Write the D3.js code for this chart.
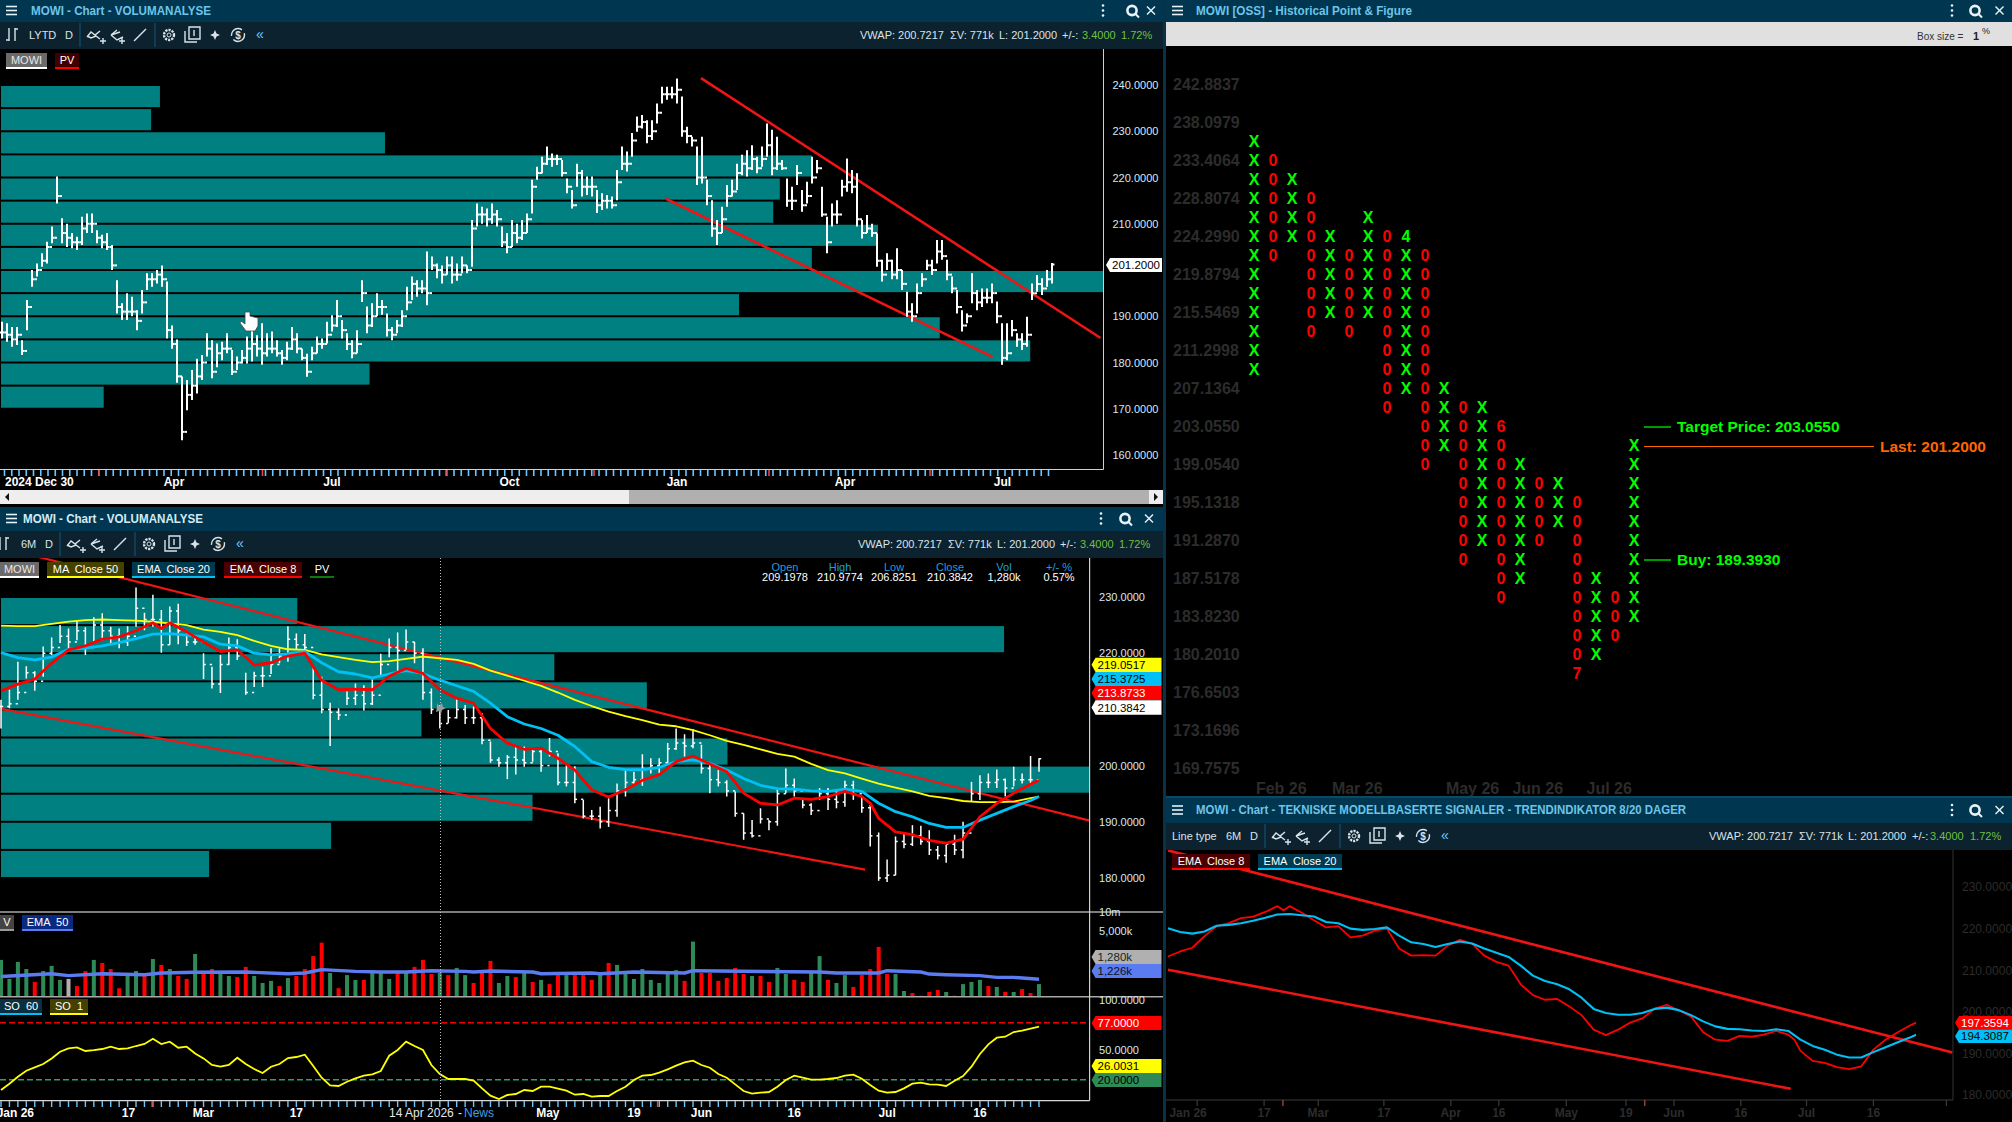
<!DOCTYPE html>
<html>
<head>
<meta charset="utf-8">
<style>
html,body{margin:0;padding:0;background:#000;overflow:hidden}
text{font-family:"Liberation Sans",Arial,sans-serif;white-space:pre}
</style>
<script src="https://cdn.jsdelivr.net/npm/d3@7"></script>
</head>
<body>
<svg id="c" width="2012" height="1122"></svg>
<script>
// --- upper chart, LYTD daily bars
const topHigh = [188.8,188.5,187.7,187.7,184.8,193.5,200,201.4,203.6,206.1,
209.4,220.2,211.2,210,208,207.2,211.5,212.2,212.2,208.6,
207.6,208,205.4,197.8,192.8,195,194.2,191.3,195.7,199.3,
199.3,200,201,197.5,188,185,177,176.2,178.4,180.8,
181.6,186.3,184.8,184.1,184.5,186.3,182.7,181.3,182.7,185.6,
187,185.9,188.5,186.3,186.7,184.8,182.7,184.5,187.7,186.3,
183,181.9,183.4,185.6,185.2,188.8,190.2,193.5,189.2,186.3,
184.8,187,197.8,192.1,192.8,195,193.5,190.6,187.7,189.2,
191.3,196.4,198.6,197.8,197.8,204,202.9,201.4,201,202.9,
202.9,201.4,202.9,201,210.8,214.4,213.7,213.3,214.4,213,
209.4,208,210.8,210,210.8,212.2,219.5,222.3,224.5,226.7,
225.2,224.9,223.8,219.8,217.3,223,221.6,220.2,220.2,217.3,
216.6,216.2,215.9,221.6,226.7,225.6,229.6,233.2,233.5,232.4,
232.4,236,239.6,239.6,239.6,241.4,237.5,231,228.8,226.7,
228.8,219.5,215.1,210.8,213.7,218.4,219.5,223,224.9,225.9,
227,224.5,226.7,231.7,230.3,228.8,223.8,219.8,218,222.7,
217.3,219.1,224.5,223.8,218,211.5,214.4,215.1,219.5,224.1,
221.6,220.9,210.8,211.9,210,207.9,202.2,203.6,202.2,204.7,
200,195.3,192.8,197.1,199.3,202.2,202.2,206.5,206.5,202.2,
198.6,195.7,191.3,190.6,199.3,195.7,196,196,197.1,193.2,
188.5,188.5,189.2,186.3,186.3,189.9,197.1,198.9,198.2,200,
201.5];
const topLow = [185.2,184.5,183.4,183.8,181.6,187,196.4,198.6,200.7,201.4,
205.8,214.4,205.8,205,204.7,204.3,205.4,208,208,205.8,
204.7,204.3,200,190.6,189.2,189.2,190,187,190.6,195.7,
196.4,197.1,196.4,185.2,183,175.6,163.2,169.7,171.9,173.3,
176.2,181.3,176.6,179,180.5,182,177.3,178.4,179.8,179.8,
180.2,181.3,179.5,181.3,182,181.3,179.5,180.5,182.7,182,
180.5,176.9,180.5,182,183,184.1,186.7,187.7,185.2,182.7,
180.9,182,193.1,186.3,187.7,190,190.3,185.6,184.8,186.3,
187.7,191.3,193.5,194.2,195,192.4,200,198.2,197.1,199,
197.1,197.7,199.3,199.3,200.7,209.4,210,209.4,210,209.4,
205,203.6,205,205.8,206.5,208,212.2,219.5,220.9,222.7,
222.3,222.7,220.2,216.6,213.3,218,215.9,216.2,215.9,212.3,
213,213.3,213.3,215.1,221.6,221.3,224.5,229.9,230.6,227.4,
228.1,231.7,236,236.8,237.1,236,228.8,227.4,226.7,218.4,
218.7,214,207.2,205.4,208,213.7,215.9,217.3,220.5,220.2,
221.6,220.9,222.3,224.5,220.5,221.6,221.6,213.7,213,218.4,
212.6,214.4,218.7,220.9,211.5,203.6,209.4,210,215.9,216.9,
216.6,209.4,206.8,208,207.2,200.7,197.5,200,198,198,
195.7,189.9,188.8,190.6,196.4,200,198.9,201.4,202.2,197.8,
195,190.6,186.7,188.5,192.8,191.3,192,192.8,192.8,188.5,
179.5,180.5,185.6,183.4,182.7,183.4,193.5,195.3,194.6,196.4,
197.1];
const topClose = [186.5,186,185,186,182.5,192,198,200,202,205,
207,216,208,207,206,206,209,210,210,207,
206,205,201,192,191,191,191,189,193,198,
198,199,198,187,184,177,165,173,175,177,
180,183,178,182,183,183,178,180,181,183,
184,183,182,183,183,182,181,183,185,183,
181,178,182,184,184,186,188,190,187,184,
182,184,195,188,190,192,192,187,186,188,
190,193,197,196,196,195,201,200,199,201,
199,199,201,200,209,212,212,211,212,211,
206,205,208,207,208,211,218,221,223,224,
224,224,221,218,214,221,218,218,218,214,
215,215,214,219,223,223,228,231,232,229,
230,234,238,238,238,239,230,229,228,220,
220,216,209,208,211,216,217,221,223,222,
224,222,224,227,222,223,222,215,215,221,
214,216,220,222,212,206,212,212,218,219,
218,211,208,209,208,202,199,202,199,200,
197,191,190,195,198,201,200,204,203,199,
196,192,188,190,195,193,194,194,195,190,
181,182,187,185,184,186,195,197,196,198,
201.2];
const topTicks = [160,170,180,190,210,220,230,240];
const topPvLevel = [237.5,232.5,227.5,222.5,217.5,212.5,207.5,202.5,197.5,192.5,187.5,182.5,177.5,172.5];
const topPvVol = [14.5,13.7,34.9,73.6,70.7,70.1,79.6,73.6,100,67,85.2,93.4,33.5,9.4];
const topMonths = ["Apr","Jul","Oct","Jan","Apr","Jul"];
const topMonthIdx = [34.4,66,101.5,135,168.6,200.1];
const topNewsIdx = [19.4,52.1,88.8,118.4,153.4,185.6];
const topUpper = [[139.8,241.5],[219.7,185.3]];
const topLower = [[132.8,215.4],[198.1,181.2]];

// --- 6M chart, one entry per session
const midHigh = [211.7,213.5,218.5,217.7,216.8,221.2,222.8,225,224.4,225.9,
224.6,226.4,227.1,224.7,224.4,224.8,231.7,227.2,230.4,227.7,
228.3,228.8,223.5,223.2,220,217.6,219.7,222.8,222.5,216.5,
216.7,217.6,220.9,220.9,224.8,223.5,223.4,217.7,215.8,211.2,
210.2,213.2,214.6,214.3,215.3,219.9,222.6,223.7,224.2,222,
220.9,213.7,210.8,209.9,211.8,210.8,210.5,209.3,204.3,201.5,
201.9,203.4,203.4,203.1,202.8,204.9,202.2,200.1,199.9,193.9,
192.1,192.7,194.2,196.8,199.2,198.9,202,201.3,201.3,204,
206.6,205.6,206.5,203.7,200.1,199.2,197.4,195.4,191.5,190.3,
192.4,190.3,195.7,199.5,197.7,193.9,193.3,196,196,195.7,
197.3,197.3,194.5,193,188.1,183.3,187.4,188,189.4,189.3,
188.5,185.7,185.9,187.7,190,197.1,198.3,198.6,199.3,197.7,
199.8,198.6,201.7,201.3];
const midLow = [206.6,210.2,211.7,215.5,213.3,215.8,219.7,221.8,220.9,222.3,
219.7,221.8,222.3,221.8,220.9,221.3,224.7,224.1,224.7,220.1,
221.5,221.6,221.3,221.5,215.4,213.7,212.9,217.9,218.8,212.6,
214,214,216.3,218.2,218.5,220.6,219.7,211.8,209.3,203.5,
208.1,210.8,210.8,209.8,210.8,216.1,219.3,216.7,220.6,218.2,
211.7,209.2,206.6,207.6,208.4,207.4,207.4,203.8,200.5,199.8,
197.6,198.4,199.8,200.7,198.9,201.6,196.5,196.3,193.3,190.6,
190.3,188.8,189.1,190.9,194.5,196.5,196.4,198.6,198.6,200.1,
202.8,201.6,203.1,198.6,195.1,196.3,194.5,190.9,186.8,187.2,
189.7,188.5,189.3,195.1,194.5,192.4,191.2,193.9,192.1,192.4,
192.7,193.9,191.6,185.6,179.5,179.3,180.5,185.3,185.7,185.9,
184.1,183.3,182.7,184.1,183.5,193.6,193.9,196,196,194.5,
196.3,196.8,196.5,198.9];
const midClose = [210.5,211,213,216.5,215,220,221,223,222,224,
221,225,224,223,222,223,228,226,226,221.5,
227.5,224,222,222,218,214.5,218,221,219.5,213,
216,216,218,219.5,222.5,221.5,221,212.5,210,209.5,
209,212,212.5,211,212.5,218,221,220.5,222,220,
213,210,207.5,208.5,210,208.5,208.5,204.5,201,200.5,
201.5,201,200.5,202.5,200,202.5,197,197,194,191,
191,190,192,195.5,197,197.5,199.5,200,200.5,203,
204,203.5,204,199.5,197.5,197,195.5,191.5,188,187.5,
190.5,190,195,196.5,195.5,193,192,195,194,193.5,
196.5,195,192.5,187.5,180,180.5,186.5,186,187.5,186.5,
185,184,186,185,188,195,197,197,197.5,196,
197.5,197.5,197.5,201.2];
const midTicks = [180,190,200,220,230];
const midPvLevel = [227.5,222.5,217.5,212.5,207.5,202.5,197.5,192.5,187.5,182.5];
const midPvVol = [27.3,92.2,50.9,59.4,38.7,66.8,100,48.9,30.4,19.2];
// both channels are shared with the trend panel below
const channelUpper = [[0,238.8],[129,190.2]];
const channelLower = [[0,210.1],[102.4,181.5]];

const emaIdx = [0,2,4,6,8,10,12,14,16,18,20,22,24,26,28,30,32,34,36,38,40,42,44,46,48,50,52,54,56,58,60,62,64,66,68,70,72,74,76,78,80,82,84,86,88,90,92,94,96,98,100,102,104,106,108,110,112,114,116,118,120,122,123];
const ma50 = [224.9,224.8,224.8,225.2,225.6,225.9,226,225.9,225.8,225.6,225.3,225,224.2,223.8,223.2,222.2,221.3,220.7,220.6,219.8,219.3,218.8,218.4,218.6,219,219.4,219.1,218.8,218.1,216.9,216,215.1,214.2,213,211.7,210.6,209.6,208.8,208.1,207.3,207,206.3,205.4,204.4,203.7,202.9,202.1,201.6,200.3,199.2,198.6,197.7,196.8,196.1,195.4,194.6,194.2,193.7,193.5,193.5,193.6,194.2,194.5];
const ema20 = [220.1,219.2,218.8,219.3,220.7,220.9,221.3,221.9,222.6,223.4,223.5,223.2,222.9,221.6,221.3,220,219.7,219.9,220.3,218.3,216.7,216.3,215.6,216.3,216.9,216.4,215.2,214.2,213.2,211.1,208.7,207.4,206.6,205.4,203.4,200.7,199.7,199.3,199.3,199.7,200.7,201,200.4,199.2,197.7,196.5,195.9,195.8,195.5,195.4,195.8,195.4,193.3,191.8,190.9,189.7,189,189,190.3,191.5,192.7,193.8,194.5];
const ema8Idx = [0,2,4,6,8,10,12,14,16,18,19,20,22,24,26,28,30,32,34,36,38,40,42,44,46,48,50,52,54,56,58,60,62,64,66,68,70,72,74,76,78,80,82,84,86,88,90,92,94,96,98,100,102,103,104,106,108,110,112,114,116,118,120,122,123];
const ema8 = [213.3,214.5,215.4,218.2,220.6,221.3,222.5,222.9,224,225.4,224.4,225.4,223.8,222,220.3,220.6,217.9,218.3,219.5,220,215.2,213.5,213.6,213.5,215.9,217.3,216.4,213.5,212,211.1,206.6,204,202.9,203.1,201.3,199.2,195.7,194.4,195.7,197.4,198.4,200.7,201.7,200.3,198.9,195.1,193.3,193,194.2,194,194.5,195.4,194.5,193.3,190.6,188.2,187.7,186.7,186.2,186.9,190.9,193.3,195.1,196.7,197.4];

const midLabels = ["Jan 26","17","Mar","17","May","19","Jun","16","Jul","16"];
const midLabelIdx = [1.7,15.1,24,35,64.8,75,83,94,105,116];
const midNewsIdx = [17.9,77.8];

// --- volume and stochastic panes
const volumes = [1740,870,1620,1250,780,1160,1400,840,870,670,
1160,1740,1560,1250,620,970,1160,970,1800,1450,
1250,970,870,2160,1040,1250,1040,970,930,1350,
970,750,810,670,900,970,1250,2000,3270,1080,
620,1000,840,840,1080,1080,870,1080,1080,1350,
1740,1040,1080,1000,1300,1000,750,1080,1680,750,
970,930,1080,780,840,720,1000,1000,1000,1000,840,
1040,1560,1450,1040,870,1250,840,750,1040,1200,
810,3400,1080,1080,810,900,1300,1040,970,970,
780,1300,1040,840,780,1080,2000,840,750,1000,
650,1000,1250,2800,1040,1040,560,520,470,540,
580,540,470,720,780,840,670,650,540,540,
600,520,720];
const volumeDir = "ggggrgggnrrgrrrggrgrgrrgrrggrrgggrgrrrrgrggrgggrgrrrgrggrrrggrgrgrrgrrr"
  + "grggggggggrgrrrrrrgrrggrrggrggrrrrrggrgrrgggggrgrgrrg";
const volEmaIdx = [0,6,8,12,17,19,23,29,34,36,38,42,45,48,51,55,56,58,63,64,70,71,75,81,82,85,97,99,104,105,109,110,112,116,118,120,123];
const volEma = [951,1050,980,1050,1015,1080,1110,1120,1050,1080,1220,1145,1120,1120,1175,1145,1120,1160,1120,1050,1080,1050,1120,1080,1175,1160,1120,1080,1080,1175,1120,1040,1015,980,920,920,860];
const volTicks = [5000,10000];

const so1 = [9.7,16,23,29,32.3,35.7,41.3,48,51.3,52.3,48.7,49.5,50.7,53,50.7,51.3,53.7,55.7,61,55.7,58,52,53,46.3,41.3,34.7,33,34.7,42,35.7,30.7,26.7,33,35.7,41.7,42.7,45,33.7,22,14.3,13.7,18,21.3,24,25.3,28.7,44,49.7,58,53.7,49.7,34.7,25.7,20.7,20.7,20.7,19,11.3,4,0.7,4.7,5.7,9.7,8.7,13,13,11,9,5,5.7,3,3.7,3.7,8.7,13,19.7,24,24.7,27,30.3,34,37.3,39,34.7,32,25.7,22,15.3,8.7,6,7,7.7,13,19.7,24,22,20,20,20.7,21.7,24,25,21,14.7,9,7,7.7,11.3,16,17,15.3,15,13.7,19,23.7,33,45.7,55.3,62,63,67.7,69,71,73];
const soTicks = [50,100];

// --- point & figure
const pfType = "XOXOXOXOXOXOXOXOXOXOX";
const pfFirst = [3,4,5,6,8,9,7,8,8,9,16,17,17,18,20,21,21,22,26,27,19];
const pfLast = [15,9,8,13,12,13,12,17,16,20,19,25,24,27,26,24,23,31,30,29,28];
const pfDigits = [[8,8,"4"],[13,18,"6"],[17,31,"7"]];
const pfPrices = ["242.8837","238.0979","233.4064","228.8074","224.2990","219.8794","215.5469","211.2998","207.1364","203.0550","199.0540","195.1318","191.2870","187.5178","183.8230","180.2010","176.6503","173.1696","169.7575"];
const pfMonths = ["Feb 26","Mar 26","May 26","Jun 26","Jul 26"];
const pfMonthCol = [0.1,4.1,10.1,13.6,17.5];

// --- trend panel
const botTicks = [180,190,200,210,220,230];
const botLabels = ["Jan 26","17","Mar","17","Apr","16","May","19","Jun","16","Jul","16"];
const botLabelIdx = [3.3,15.8,24.7,35.5,46.5,54.4,65.5,75.3,83.2,94.2,105,116];
const botTickIdx = [4.8,15.8,24.7,35.5,46.5,54.4,65.5,75.3,83.2,94.2,105,116,128];
const botNewsIdx = [18.9,78.4];

const TEAL = "#008080", BAR = "#00364f", TOOL = "#0c222f", BLUE = "#6cc6ff";
const svg = d3.select("#c");
const defs = svg.append("defs");
function clip(id, x, y, w, h) {
  defs.append("clipPath").attr("id", id).append("rect").attr("x", x).attr("y", y).attr("width", w).attr("height", h);
}
clip("cTop", 0, 49, 1103.5, 420);
clip("cMid", 0, 558, 1089.5, 354);
clip("cBot", 1166, 850, 787, 250);

svg.append("rect").attr("width", 2012).attr("height", 1122).attr("fill", "#000");

function rect(x, y, w, h, fill, g) {
  return (g || svg).append("rect").attr("x", x).attr("y", y).attr("width", w).attr("height", h).attr("fill", fill);
}
function hline(x1, y1, x2, y2, col, w, dash) {
  const l = svg.append("line").attr("x1", x1).attr("y1", y1).attr("x2", x2).attr("y2", y2).attr("stroke", col).attr("stroke-width", w || 1);
  if (dash) l.attr("stroke-dasharray", dash);
  return l;
}
function txt(x, y, s, col, size, o) {
  o = o || {};
  return svg.append("text").attr("x", x).attr("y", y).attr("dy", ".35em").attr("fill", col)
    .attr("font-size", size || 11).attr("font-weight", o.bold ? "700" : "400")
    .attr("text-anchor", o.anchor || "start").text(s);
}
function chip(x, y, w, bg, line, s, col) {
  rect(x, y, w, 14, bg);
  rect(x, y + 14, w, 2, line);
  txt(x + w / 2, y + 7.5, s, col || "#fff", 11, { anchor: "middle" });
}
function tag(x, y, w, h, fill, s, col) {
  svg.append("path").attr("d", `M${x},${y + h / 2}L${x + 4},${y}H${x + w}V${y + h}H${x + 4}Z`).attr("fill", fill);
  txt(x + 6, y + h / 2, s, col, 11.5);
}
// panel header and toolbar furniture; cy is the middle of the bar
function header(x, y, w, h, title, col, tx, tw, ix) {
  rect(x, y, w, h, BAR);
  const cy = y + h / 2 - 0.5, mx = x + 6;
  [-4, 0, 4].forEach(d => hline(mx, cy + d, mx + 11, cy + d, "#e8f2f6", 1.6));
  txt(tx, cy, title, col, 12, { bold: true }).attr("textLength", tw).attr("lengthAdjust", "spacingAndGlyphs");
  [-5, 0, 5].forEach(d => svg.append("circle").attr("cx", ix[0]).attr("cy", cy + d).attr("r", 1.3).attr("fill", "#e8f2f6"));
  svg.append("circle").attr("cx", ix[1]).attr("cy", cy).attr("r", 4.6).attr("fill", "none").attr("stroke", "#e8f2f6").attr("stroke-width", 2.6);
  hline(ix[1] + 3, cy + 3, ix[1] + 7, cy + 7, "#e8f2f6", 2);
  hline(ix[2] - 4, cy - 4, ix[2] + 4, cy + 4, "#e8f2f6", 1.4);
  hline(ix[2] + 4, cy - 4, ix[2] - 4, cy + 4, "#e8f2f6", 1.4);
}
function toolbar(dx, y) {
  const c = "#d8e4ea";
  const p = d => svg.append("path").attr("d", d).attr("fill", "none").attr("stroke", c).attr("stroke-width", 1.4);
  [80, 155].forEach(v => hline(v + dx, y - 12, v + dx, y + 12, "#14506e", 1.2));
  p(`M${87 + dx},${y + 2}l4,-5 4,3 5,-4M${87 + dx},${y + 1}l4,2 5,-2 4,3M${100 + dx},${y + 6}h6M${103 + dx},${y + 3}v6`);
  p(`M${111 + dx},${y}l6,-5M${111 + dx},${y}l6,5 6,-3M${111 + dx},${y}l9,-3M${119 + dx},${y + 6}h6M${122 + dx},${y + 3}v6`);
  p(`M${134 + dx},${y + 6}l12,-12`);
  svg.append("circle").attr("cx", 169 + dx).attr("cy", y).attr("r", 5).attr("fill", "none").attr("stroke", c).attr("stroke-width", 2.4).attr("stroke-dasharray", "2.2,1");
  svg.append("circle").attr("cx", 169 + dx).attr("cy", y).attr("r", 2).attr("fill", "none").attr("stroke", c);
  p(`M${185 + dx},${y - 4}v11h12M${189 + dx},${y - 8}h11v12h-11ZM${194 + dx},${y - 5}v6`);
  svg.append("path").attr("d", `M${215 + dx},${y - 5}l1.5,3.5 3.5,1.5 -3.5,1.5 -1.5,3.5 -1.5,-3.5 -3.5,-1.5 3.5,-1.5Z`).attr("fill", c);
  svg.append("circle").attr("cx", 238 + dx).attr("cy", y).attr("r", 6.5).attr("fill", "none").attr("stroke", c).attr("stroke-width", 1.4).attr("stroke-dasharray", "15,4");
  txt(238 + dx, y, "$", c, 10, { anchor: "middle", bold: true });
  txt(260 + dx, y - 1, "«", BLUE, 14, { anchor: "middle" });
}
function stats(x, y, xs) {
  const c = "#d8e4ea", g = "#72c040";
  txt(xs[0] + x, y, "VWAP: 200.7217", c, 11);
  txt(xs[1] + x, y, "ΣV: 771k", c, 11);
  txt(xs[2] + x, y, "L: 201.2000", c, 11);
  txt(xs[3] + x, y, "+/-:", c, 11);
  txt(xs[4] + x, y, "3.4000", g, 11);
  txt(xs[5] + x, y, "1.72%", g, 11);
}
function barIcon(x, y) {
  svg.append("path").attr("d", `M${x + 4},${y - 7}v13M${x + 1},${y + 5}h3M${x + 10},${y - 7}v13M${x + 10},${y - 6}h3`).attr("fill", "none").attr("stroke", "#d8e4ea").attr("stroke-width", 1.4);
}
function pvBars(g, lev, vol, y, maxX, half) {
  const pv = d3.scaleLinear().domain([0, 100]).range([0, maxX]);
  g.selectAll(null).data(lev).enter().append("rect")
    .attr("x", 1).attr("y", d => y(d + half) + 1).attr("width", (d, i) => pv(vol[i]) - 1)
    .attr("height", d => y(d - half) - y(d + half) - 2).attr("fill", TEAL);
}
function ohlc(g, hi, lo, cl, x, y, w, t) {
  const b = g.selectAll(null).data(hi).enter().append("g").attr("stroke", "#fff").attr("stroke-width", w);
  b.append("line").attr("x1", (d, i) => x(i)).attr("x2", (d, i) => x(i)).attr("y1", d => y(d)).attr("y2", (d, i) => y(lo[i]));
  b.append("line").attr("x1", (d, i) => x(i)).attr("x2", (d, i) => x(i) + t).attr("y1", (d, i) => y(cl[i])).attr("y2", (d, i) => y(cl[i]));
  // left tick sits on the previous close
  b.append("line").attr("x1", (d, i) => x(i) - t).attr("x2", (d, i) => x(i)).attr("y1", (d, i) => y(cl[Math.max(i - 1, 0)])).attr("y2", (d, i) => y(cl[Math.max(i - 1, 0)]));
}
function trend(g, pts, x, y, w) {
  g.append("path").attr("d", d3.line().x(d => x(d[0])).y(d => y(d[1]))(pts))
    .attr("fill", "none").attr("stroke", "#f01414").attr("stroke-width", w);
}
function curve(g, idx, vals, x, y, col, w) {
  g.append("path").datum(vals).attr("d", d3.line().x((d, i) => x(idx[i])).y(d => y(d)))
    .attr("fill", "none").attr("stroke", col).attr("stroke-width", w).attr("stroke-linejoin", "round");
}
function yAxis(x, scale, ticks, fmt, pad, col, size, bold) {
  const a = svg.append("g").attr("transform", `translate(${x},0)`)
    .call(d3.axisRight(scale).tickValues(ticks).tickFormat(fmt).tickSize(0).tickPadding(pad));
  a.select(".domain").remove();
  a.selectAll("text").attr("fill", col).attr("font-size", size).attr("font-weight", bold ? 700 : 400)
    .style("font-family", '"Liberation Sans",Arial,sans-serif');
  return a;
}

// ---------- upper left: VOLUMANALYSE LYTD
header(0, 0, 1163, 22, "MOWI - Chart - VOLUMANALYSE", "#6ec4e8", 31, 180, [1103, 1132, 1151]);
rect(0, 22, 1163, 27, TOOL);
barIcon(5, 35);
txt(29, 35, "LYTD", "#d8e4ea", 11);
txt(65, 35, "D", "#d8e4ea", 11);
toolbar(0, 35);
stats(0, 35, [860, 950, 999, 1062, 1082, 1121]);

const xTop = d3.scaleLinear().domain([0, 1]).range([2, 7]);
const yTop = d3.scaleLinear().domain([160, 240]).range([455, 85]);
const gTop = svg.append("g").attr("clip-path", "url(#cTop)");
pvBars(gTop, topPvLevel, topPvVol, yTop, 1103, 2.5);
trend(gTop, topUpper, xTop, yTop, 2.6);
trend(gTop, topLower, xTop, yTop, 2.6);
ohlc(gTop, topHigh, topLow, topClose, xTop, yTop, 2, 2.5);
chip(6, 53, 41, "#6a6a6a", "#fff", "MOWI", "#e8e8e8");
chip(55, 53, 24, "#400000", "#f00", "PV");
hline(1103.5, 49, 1103.5, 469.5, "#d0d0d0", 1);
hline(0, 469.5, 1103.5, 469.5, "#d0d0d0", 1);
yAxis(1103.5, yTop, topTicks, d3.format(".4f"), 9, "#d8e8f4", 11);
svg.append("g").selectAll("line").data(d3.range(0.5, 210, 1.45)).enter().append("line")
  .attr("x1", d => xTop(d)).attr("x2", d => xTop(d)).attr("y1", 470).attr("y2", 476)
  .attr("stroke", BLUE).attr("stroke-width", 1.6);
svg.append("g").selectAll("line").data(topNewsIdx).enter().append("line")
  .attr("x1", d => xTop(d)).attr("x2", d => xTop(d)).attr("y1", 470).attr("y2", 476)
  .attr("stroke", "#f04040").attr("stroke-width", 1.6);
txt(5, 482, "2024 Dec 30", "#fff", 12, { bold: true });
topMonths.forEach((m, i) => txt(xTop(topMonthIdx[i]), 482, m, "#fff", 12, { bold: true, anchor: "middle" }));
rect(0, 490, 629, 14, "#eeeeee");
rect(629, 490, 520, 14, "#b0b0b0");
rect(1149, 490, 14, 14, "#eeeeee");
svg.append("path").attr("d", "M5,497l4,-4v8ZM1158,497l-4,-4v8Z").attr("fill", "#111");
tag(1106, 258, 56, 14, "#fff", "201.2000", "#000");
// hand pointer left by the screenshot
svg.append("path").attr("d", "M245,312v12l-4,-3 -1,2 6,8h9l3,-5v-8l-8,-2v-4Z").attr("fill", "#fff").attr("stroke", "#444").attr("stroke-width", 0.8);

// ---------- lower left: VOLUMANALYSE 6M
header(0, 507, 1163, 24, "MOWI - Chart - VOLUMANALYSE", "#d4ebf6", 23, 180, [1101, 1125, 1149]);
rect(0, 531, 1163, 27, TOOL);
barIcon(-4, 544);
txt(21, 544, "6M", "#d8e4ea", 11);
txt(45, 544, "D", "#d8e4ea", 11);
toolbar(-20, 544);
stats(-2, 544, [860, 950, 999, 1062, 1082, 1121]);

const xMid = d3.scaleLinear().domain([0, 123]).range([1, 1039]);
const yMid = d3.scaleLinear().domain([180, 230]).range([878, 597]);
const gMid = svg.append("g").attr("clip-path", "url(#cMid)");
pvBars(gMid, midPvLevel, midPvVol, yMid, 1089, 2.5);
trend(gMid, channelUpper, xMid, yMid, 2.2);
trend(gMid, channelLower, xMid, yMid, 2.2);
ohlc(gMid, midHigh, midLow, midClose, xMid, yMid, 1.5, 2.2);
curve(gMid, emaIdx, ma50, xMid, yMid, "#ffff00", 1.8);
curve(gMid, emaIdx, ema20, xMid, yMid, "#00c0f5", 2.8);
curve(gMid, ema8Idx, ema8, xMid, yMid, "#ff0000", 2.8);

chip(0, 562, 39, "#6a6a6a", "#fff", "MOWI", "#e8e8e8");
chip(47, 562, 77, "#454200", "#ffff00", "MA  Close 50");
chip(132, 562, 83, "#003a50", "#00c0f5", "EMA  Close 20");
chip(224, 562, 78, "#4a0000", "#f00", "EMA  Close 8");
chip(310, 562, 24, "#000", "#0a7a0a", "PV");

const cellX = [785, 840, 894, 950, 1004, 1059];
["Open", "High", "Low", "Close", "Vol", "+/- %"].forEach((s, i) => txt(cellX[i], 567, s, "#1f9fd8", 11, { anchor: "middle" }));
["209.1978", "210.9774", "206.8251", "210.3842", "1,280k", "0.57%"].forEach((s, i) => txt(cellX[i], 577, s, "#fff", 11, { anchor: "middle" }));

yAxis(1089.6, yMid, midTicks, d3.format(".4f"), 9.5, "#d8e8f4", 11);

// volume pane (log axis)
const yVol = d3.scaleLog().domain([450, 10000]).range([997, 912]);
const volCol = { g: "#2e8b57", r: "#ff0000", n: "#b0b0b0" };
svg.append("g").selectAll("rect").data(volumes).enter().append("rect")
  .attr("x", (d, i) => xMid(i) - 2).attr("width", 4)
  .attr("y", d => yVol(d)).attr("height", d => 997 - yVol(d))
  .attr("fill", (d, i) => volCol[volumeDir[i]]);
curve(svg, volEmaIdx, volEma, xMid, yVol, "#5b7cf0", 3.4);
hline(0, 912, 1163, 912, "#a8a8a8", 1.4);
hline(0, 996.8, 1163, 996.8, "#a8a8a8", 1.4);
yAxis(1089.6, yVol, volTicks, d => d === 10000 ? "10m" : "5,000k", 9.5, "#d8e8f4", 11);
chip(0, 915, 14, "#444", "#999", "V");
chip(22, 915, 51, "#0a2a80", "#5b7cf0", "EMA  50");

// stochastic pane
const ySo = d3.scaleLinear().domain([0, 100]).range([1099.7, 999.7]);
hline(0, ySo(77), 1089, ySo(77), "#f00000", 1.5, "6,3");
hline(0, ySo(20), 1089, ySo(20), "#2e9e6b", 1.5, "6,3");
svg.append("path").datum(so1).attr("d", d3.line().x((d, i) => xMid(i)).y(d => ySo(d)))
  .attr("fill", "none").attr("stroke", "#ffff00").attr("stroke-width", 1.8);
chip(0, 999, 42, "#0a3040", "#00c0f5", "SO  60");
chip(50, 999, 38, "#444000", "#ffff00", "SO  1");
yAxis(1089.6, ySo, soTicks, d3.format(".4f"), 9.5, "#d8e8f4", 11);

hline(1089.6, 558, 1089.6, 1100.7, "#d0d0d0", 1.2);
hline(0, 1100.7, 1089.6, 1100.7, "#d8d8d8", 1.2);
svg.append("g").selectAll("line").data(d3.range(0, 124)).enter().append("line")
  .attr("x1", d => xMid(d)).attr("x2", d => xMid(d)).attr("y1", 1101).attr("y2", 1107)
  .attr("stroke", BLUE).attr("stroke-width", 1.4);
svg.append("g").selectAll("line").data(midNewsIdx).enter().append("line")
  .attr("x1", d => xMid(d)).attr("x2", d => xMid(d)).attr("y1", 1101).attr("y2", 1107)
  .attr("stroke", "#f04040").attr("stroke-width", 1.4);
midLabels.forEach((s, i) => txt(xMid(midLabelIdx[i]), 1113, s, "#fff", 12, { bold: true, anchor: "middle" }));
txt(389, 1113, "14 Apr 2026", "#e8e8e8", 12);
txt(458, 1113, "-", "#e8e8e8", 12);
txt(464, 1113, "News", "#3f9fe8", 12);
hline(440.5, 558, 440.5, 1101, "#bdbdbd", 1, "1,2");
svg.append("path").attr("d", "M437,703l2,3 3,-3 1,4 3,1 -4,2 -1,4 -2,-3 -3,1 1,-5Z").attr("fill", "#9a9a9a");

tag(1091.5, 657.7, 70, 14.3, "#ffff00", "219.0517", "#000");
tag(1091.5, 672, 70, 14, "#00c0f5", "215.3725", "#000");
tag(1091.5, 686, 70, 14, "#ff0000", "213.8733", "#fff");
tag(1091.5, 700.3, 70, 14.4, "#fff", "210.3842", "#000");
tag(1091.5, 950, 70, 14, "#b0b0b0", "1,280k", "#222");
tag(1091.5, 964, 70, 14, "#5b7cf0", "1,226k", "#111");
tag(1091.5, 1016, 70, 14, "#ff0000", "77.0000", "#fff");
tag(1091.5, 1059, 70, 14, "#ffff00", "26.0031", "#000");
tag(1091.5, 1073, 70, 14, "#2e8b57", "20.0000", "#000");

// panel separator
rect(1163, 0, 3, 1122, "#0a3147");

// ---------- point & figure
header(1166, 0, 846, 22, "MOWI [OSS] - Historical Point & Figure", "#6ec4e8", 1196, 216, [1952, 1975, 1999.5]);
rect(1166, 22, 846, 24, "#e0e0e0");
txt(1917, 36, "Box size =", "#333", 10);
txt(1973, 36, "1", "#222", 11, { bold: true });
txt(1982, 31, "%", "#222", 9);

const xPf = d3.scaleLinear().domain([0, 1]).range([1254, 1273]);
const yPf = d3.scaleLinear().domain([0, 1]).range([84, 103]);
const PF_FONT = 16;
pfPrices.forEach((s, i) => txt(1173, yPf(i * 2), s, "#2c2c2c", 16, { bold: true }));
pfType.split("").forEach((t, c) => {
  d3.range(pfFirst[c], pfLast[c] + 1).forEach(r => {
    const dig = pfDigits.find(d => d[0] === c && d[1] === r);
    txt(xPf(c), yPf(r), dig ? dig[2] : (t === "X" ? "X" : "0"), t === "X" ? "#00ff00" : "#ff0000", PF_FONT, { bold: true, anchor: "middle" });
  });
});
pfMonths.forEach((s, i) => txt(xPf(pfMonthCol[i]), 788, s, "#2c2c2c", 16, { bold: true }));
hline(1644, 427, 1671, 427, "#00ff00", 1.2);
txt(1677, 427, "Target Price: 203.0550", "#00ff00", 15.5, { bold: true });
hline(1644, 446.5, 1874, 446.5, "#ff6600", 1.2);
txt(1880, 446.5, "Last: 201.2000", "#ff6600", 15.5, { bold: true });
hline(1644, 560, 1671, 560, "#00ff00", 1.2);
txt(1677, 560, "Buy: 189.3930", "#00ff00", 15.5, { bold: true });

// ---------- trend indicator 8/20
rect(1166, 796, 846, 2, "#0a4a66");
header(1166, 798, 846, 25, "MOWI - Chart - TEKNISKE MODELLBASERTE SIGNALER - TRENDINDIKATOR 8/20 DAGER", "#6ec4e8", 1196, 490, [1952, 1975, 1999.5]);
rect(1166, 823, 846, 27, TOOL);
txt(1172, 836, "Line type", "#d8e4ea", 11);
txt(1226, 836, "6M", "#d8e4ea", 11);
txt(1250, 836, "D", "#d8e4ea", 11);
toolbar(1185, 836);
stats(0, 836, [1709, 1799, 1848, 1912, 1930, 1970]);

const xBot = d3.scaleLinear().domain([0, 123]).range([1168, 1916]);
const yBot = d3.scaleLinear().domain([180, 230]).range([1095, 887]);
const gBot = svg.append("g").attr("clip-path", "url(#cBot)");
trend(gBot, channelUpper, xBot, yBot, 2.6);
trend(gBot, channelLower, xBot, yBot, 2.6);
curve(gBot, ema8Idx, ema8, xBot, yBot, "#ff0000", 1.8);
curve(gBot, emaIdx, ema20, xBot, yBot, "#00c0f5", 2.1);
chip(1172, 854, 78, "#4a0000", "#f00", "EMA  Close 8");
chip(1258, 854, 84, "#003a50", "#00c0f5", "EMA  Close 20");
hline(1953, 850, 1953, 1100, "#2a2a2a", 1.2);
hline(1166, 1100, 1953, 1100, "#3a3a3a", 1.2);
yAxis(1953, yBot, botTicks, d3.format(".4f"), 9, "#2c2c2c", 12);
svg.append("g").selectAll("line").data(botTickIdx).enter().append("line")
  .attr("x1", d => xBot(d)).attr("x2", d => xBot(d)).attr("y1", 1100).attr("y2", 1106)
  .attr("stroke", "#3a3a3a").attr("stroke-width", 1.2);
svg.append("g").selectAll("line").data(botNewsIdx).enter().append("line")
  .attr("x1", d => xBot(d)).attr("x2", d => xBot(d)).attr("y1", 1100).attr("y2", 1106)
  .attr("stroke", "#b05050").attr("stroke-width", 1.2);
botLabels.forEach((s, i) => txt(xBot(botLabelIdx[i]), 1113, s, "#2c2c2c", 12, { bold: true, anchor: "middle" }));
tag(1955, 1016, 57, 13.5, "#ff0000", "197.3594", "#fff");
tag(1955, 1029.5, 57, 13.5, "#00c0f5", "194.3087", "#000");
</script>
</body>
</html>
